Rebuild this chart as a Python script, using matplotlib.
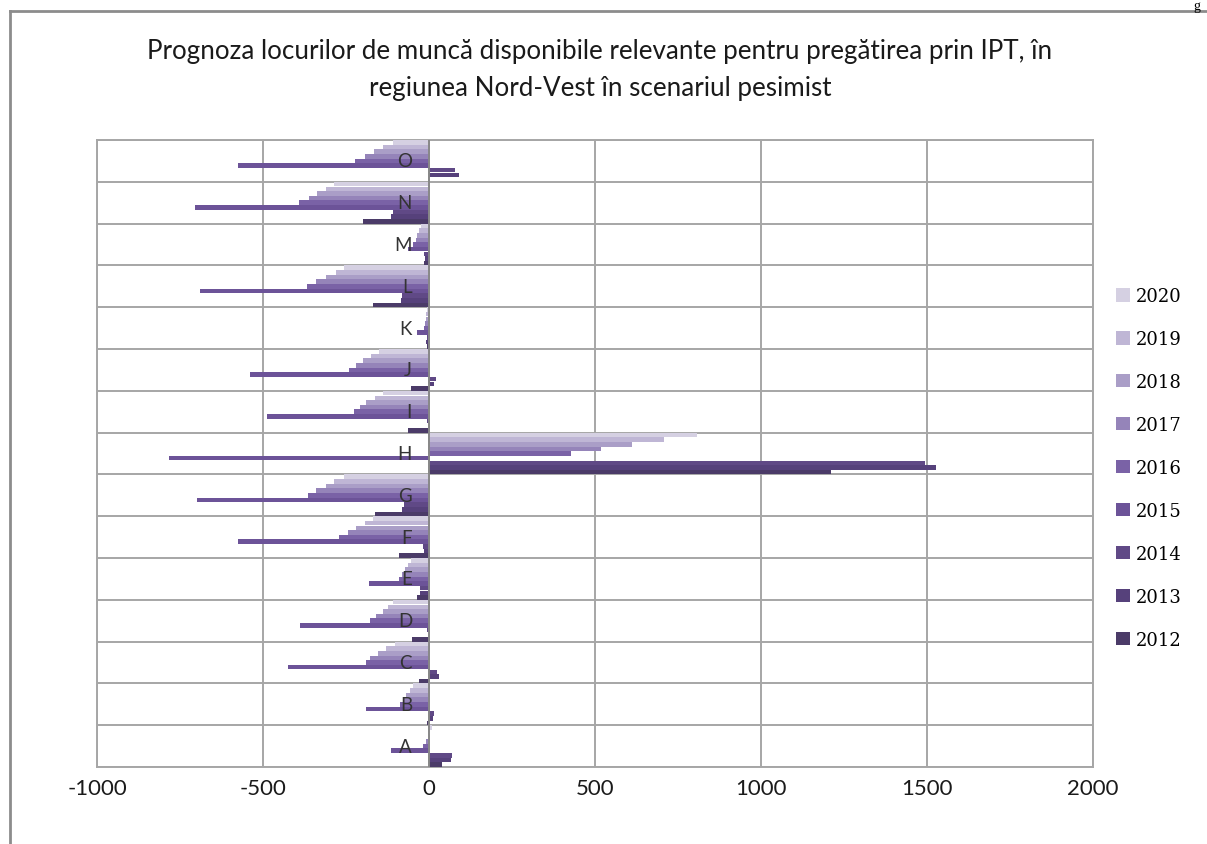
import numpy as np
import matplotlib
matplotlib.use('Agg')
import matplotlib.pyplot as plt
from matplotlib import transforms
from matplotlib.patches import Patch

# categories (bottom -> top) and one list per year
categories = ['A', 'B', 'C', 'D', 'E', 'F', 'G', 'H', 'I', 'J', 'K', 'L', 'M', 'N', 'O']
years = ['2012', '2013', '2014', '2015', '2016', '2017', '2018', '2019', '2020']

v2012 = [40, -5, -31, -50, -35, -89, -164, 1211, -63, -53, -5, -170, -15, -200, 0]
v2013 = [65, 12, 30, 3, -28, -15, -80, 1528, 3, 15, -8, -85, -12, -114, 89]
v2014 = [70, 14, 25, -5, -28, -18, -75, 1494, -5, 20, -5, -80, -14, -110, 78]
v2015 = [-115, -191, -426, -389, -182, -575, -698, -782, -487, -540, -36, -691, -63, -706, -575]
v2016 = [-17, -88, -190, -179, -92, -272, -366, 428, -225, -242, -15, -369, -48, -391, -222]
v2017 = [-8, -78, -179, -159, -82, -245, -340, 518, -207, -220, -12, -340, -40, -361, -194]
v2018 = [-3, -68, -154, -139, -72, -220, -310, 610, -189, -200, -10, -310, -35, -336, -167]
v2019 = [4, -58, -129, -124, -62, -194, -285, 707, -164, -175, -8, -280, -30, -310, -139]
v2020 = [8, -48, -104, -109, -53, -169, -255, 806, -139, -150, -6, -255, -25, -285, -109]

series = [v2012, v2013, v2014, v2015, v2016, v2017, v2018, v2019, v2020]

colors = ['#4b3b68', '#56417b', '#604986', '#6c5398', '#7a62a6',
          '#9584b9', '#aa9ec7', '#bfb6d5', '#d5d0e2']

title = ('Prognoza locurilor de muncă disponibile relevante pentru pregătirea prin IPT, în\n'
         'regiunea Nord-Vest în scenariul pesimist')

plt.rcParams['axes.unicode_minus'] = False

fig = plt.figure(figsize=(12.07, 8.45), dpi=100)
ax = fig.add_axes([0.0804, 0.0911, 0.9056 - 0.0804, 0.8331 - 0.0911])

grid_c = '#a6a6a6'
n = len(series)
h = 1.0 / n
y = np.arange(len(categories))
for i, vals in enumerate(series):
    ax.barh(y + (i - (n - 1) / 2) * h, vals, height=h * 0.98,
            color=colors[i], edgecolor='none', zorder=3)

ax.set_xlim(-1000, 2000)
ax.set_ylim(-0.5, len(categories) - 0.5)
ax.set_xticks([-1000, -500, 0, 500, 1000, 1500, 2000])
ax.set_yticks(np.arange(-0.5, len(categories), 1.0))
ax.set_yticklabels([])
ax.tick_params(axis='y', length=0)
ax.tick_params(axis='x', length=0, pad=8, labelsize=16, labelcolor='#1a1a1a')
for lab in ax.get_xticklabels():
    lab.set_family('Lato')
ax.grid(True, color=grid_c, linewidth=1.4, zorder=0)
for s in ax.spines.values():
    s.set_color(grid_c)
    s.set_linewidth(1.4)
ax.axvline(0, color='#888888', linewidth=1.4, zorder=4)

# category labels sit next to the zero axis
off = transforms.offset_copy(ax.transData, fig=fig, x=-17, y=0, units='dots')
for k, c in enumerate(categories):
    ax.text(0, k, c, transform=off, ha='right', va='center', fontsize=13.5,
            family='Lato', color='#333333', zorder=6)

handles = [Patch(facecolor=colors[i], edgecolor='none') for i in range(n)][::-1]
leg = fig.legend(handles, years[::-1], loc='center left',
                 bbox_to_anchor=(1100 / 1207, 1 - 469 / 845), frameon=False,
                 handlelength=0.75, handleheight=0.75, handletextpad=0.35,
                 labelspacing=1.38, prop={'family': 'DejaVu Serif', 'size': 13})

fig.text(0.497, 1 - 70 / 845, title, ha='center', va='center', fontsize=18.7,
         family='Lato', linespacing=1.62, color='#1a1a1a')

# outer chart frame (cut off at right and bottom)
fig.add_artist(plt.Line2D([10 / 1207, 10 / 1207], [0, 1 - 12 / 845],
                          transform=fig.transFigure, color='#8c8c8c', linewidth=2))
fig.add_artist(plt.Line2D([10 / 1207, 1], [1 - 12 / 845, 1 - 12 / 845],
                          transform=fig.transFigure, color='#8c8c8c', linewidth=2))
fig.text(1197 / 1207, 1.0, 'g', ha='center', va='top', fontsize=10,
         family='Liberation Serif')

fig.savefig('out.png', dpi=100)
